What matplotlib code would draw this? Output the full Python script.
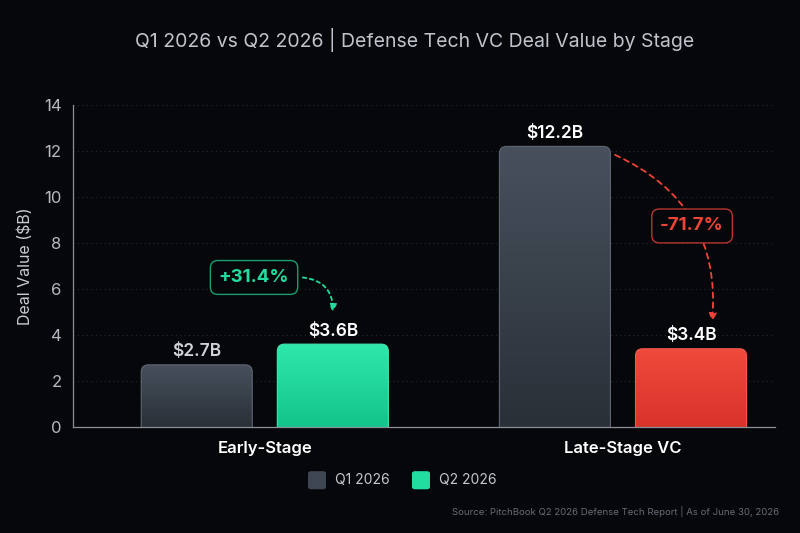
import numpy as np
import matplotlib
matplotlib.use("Agg")
import matplotlib.pyplot as plt
from matplotlib.patches import FancyBboxPatch, Rectangle
from matplotlib.colors import LinearSegmentedColormap

stages = ["Early-Stage", "Late-Stage VC"]
q1_values = [2.7, 12.2]
q2_values = [3.6, 3.4]
value_labels_q1 = ["$2.7B", "$12.2B"]
value_labels_q2 = ["$3.6B", "$3.4B"]
changes = ["+31.4%", "-71.7%"]
series_names = ["Q1 2026", "Q2 2026"]
yticks = [0, 2, 4, 6, 8, 10, 12, 14]

BG = "#06070a"
GREEN = "#22dda0"
RED = "#ee4438"
SLATE = "#3e4652"

plt.rcParams["font.family"] = ["Inter", "DejaVu Sans"]

fig = plt.figure(figsize=(8, 5.33), dpi=100, facecolor=BG)
ax = fig.add_axes([0.091, 0.199, 0.878, 0.604])
ax.set_facecolor(BG)

x = np.arange(len(stages))
off = 0.19
w = 0.31

b1 = ax.bar(x - off, q1_values, w, color="none")
b2 = ax.bar(x + off, q2_values, w, color="none")

# pixel aspect for rounded corners
asp = (0.878 * 800 / 1.961) / (0.604 * 533 / 14)

def grad_bar(rect, top, bottom, edge):
    x0, y0 = rect.get_x(), rect.get_y()
    bw, bh = rect.get_width(), rect.get_height()
    patch = FancyBboxPatch((x0, y0 - 0.5), bw, bh + 0.5,
                           boxstyle="round,pad=0,rounding_size=0.02",
                           mutation_aspect=asp, facecolor="none",
                           edgecolor=edge, linewidth=0.8, zorder=3)
    ax.add_patch(patch)
    cmap = LinearSegmentedColormap.from_list("g", [bottom, top])
    grad = np.linspace(0, 1, 100).reshape(-1, 1)
    im = ax.imshow(grad, cmap=cmap, aspect="auto", origin="lower",
                   extent=(x0, x0 + bw, y0, y0 + bh), zorder=2)
    im.set_clip_path(patch)
    clip = Rectangle((-1, 0), 4, 20, transform=ax.transData)
    patch.set_clip_path(clip)

for r in b1:
    grad_bar(r, "#47505c", "#2a3038", "#5d6672")
grad_bar(b2[0], "#2fe8ab", "#14c48a", "#3fe9b2")
grad_bar(b2[1], "#f04a3c", "#d8332b", "#f2594c")

ax.set_xlim(-0.536, 1.425)
ax.set_ylim(0, 14)

# value labels
for i in range(len(stages)):
    ax.text(x[i] - off, q1_values[i] + 0.2, value_labels_q1[i], ha="center",
            va="bottom", color="#cfd3d9" if i == 0 else "white",
            fontsize=12.5, fontweight="semibold", zorder=5)
    ax.text(x[i] + off, q2_values[i] + 0.2, value_labels_q2[i], ha="center",
            va="bottom", color="white", fontsize=12.5, fontweight="semibold",
            zorder=5)

# grid and spines
ax.set_yticks(yticks)
ax.yaxis.grid(True, color="#262a31", linestyle=(0, (1, 3)), linewidth=0.8)
ax.set_axisbelow(True)
for s in ["top", "right"]:
    ax.spines[s].set_visible(False)
ax.spines["left"].set_color("#8a8f98")
ax.spines["bottom"].set_color("#8a8f98")
ax.spines["left"].set_linewidth(0.9)
ax.spines["bottom"].set_linewidth(0.9)
ax.tick_params(axis="y", length=0, colors="#b4b9c1", labelsize=12, pad=8)
ax.tick_params(axis="x", length=0, colors="white", labelsize=12, pad=10)
ax.set_xticks(x)
ax.set_xticklabels(stages, fontweight="semibold")
ax.set_ylabel("Deal Value ($B)", color="#c8ccd4", fontsize=11.5, labelpad=8)

# change annotations
ax.annotate("", xy=(x[0] + off, q2_values[0] + 1.4), xytext=(x[0] + 0.106, 6.5),
            arrowprops=dict(arrowstyle="-|>", color=GREEN, linestyle=(0, (2, 2)),
                            linewidth=1.3, connectionstyle="arc3,rad=-0.45",
                            mutation_scale=11, shrinkA=0, shrinkB=0), zorder=4)
ax.text(x[0] - 0.03, 6.5, changes[0], ha="center", va="center", color=GREEN,
        fontsize=13.5, fontweight="bold", zorder=6,
        bbox=dict(boxstyle="round,pad=0.45,rounding_size=0.4", facecolor=BG,
                  edgecolor="#1a9e72", linewidth=1.0))

ax.annotate("", xy=(x[1] + 0.249, q2_values[1] + 1.2), xytext=(0.978, 11.83),
            arrowprops=dict(arrowstyle="-|>", color=RED, linestyle=(0, (3, 2.5)),
                            linewidth=1.3, connectionstyle="arc3,rad=-0.35",
                            mutation_scale=11, shrinkA=0, shrinkB=0), zorder=4)
ax.text(x[1] + 0.193, 8.74, changes[1], ha="center", va="center", color=RED,
        fontsize=13.5, fontweight="bold", zorder=6,
        bbox=dict(boxstyle="round,pad=0.45,rounding_size=0.4", facecolor=BG,
                  edgecolor="#b8362d", linewidth=1.0))

# title
fig.text(0.518, 0.925, "Q1 2026 vs Q2 2026 | Defense Tech VC Deal Value by Stage",
         ha="center", va="center", color="#bfc4cc", fontsize=14)

# legend
for xf, name, col in [(0.385, series_names[0], SLATE), (0.515, series_names[1], GREEN)]:
    fig.patches.append(FancyBboxPatch((xf, 0.082), 0.0225, 0.034,
                                      boxstyle="round,pad=0,rounding_size=0.004",
                                      transform=fig.transFigure, facecolor=col,
                                      edgecolor="none"))
    fig.text(xf + 0.034, 0.099, name, ha="left", va="center", color="#c4c8d0",
             fontsize=10)

fig.text(0.974, 0.04, "Source: PitchBook Q2 2026 Defense Tech Report | As of June 30, 2026",
         ha="right", va="center", color="#676c75", fontsize=6.9)

fig.savefig("out.png", dpi=100, facecolor=BG)
